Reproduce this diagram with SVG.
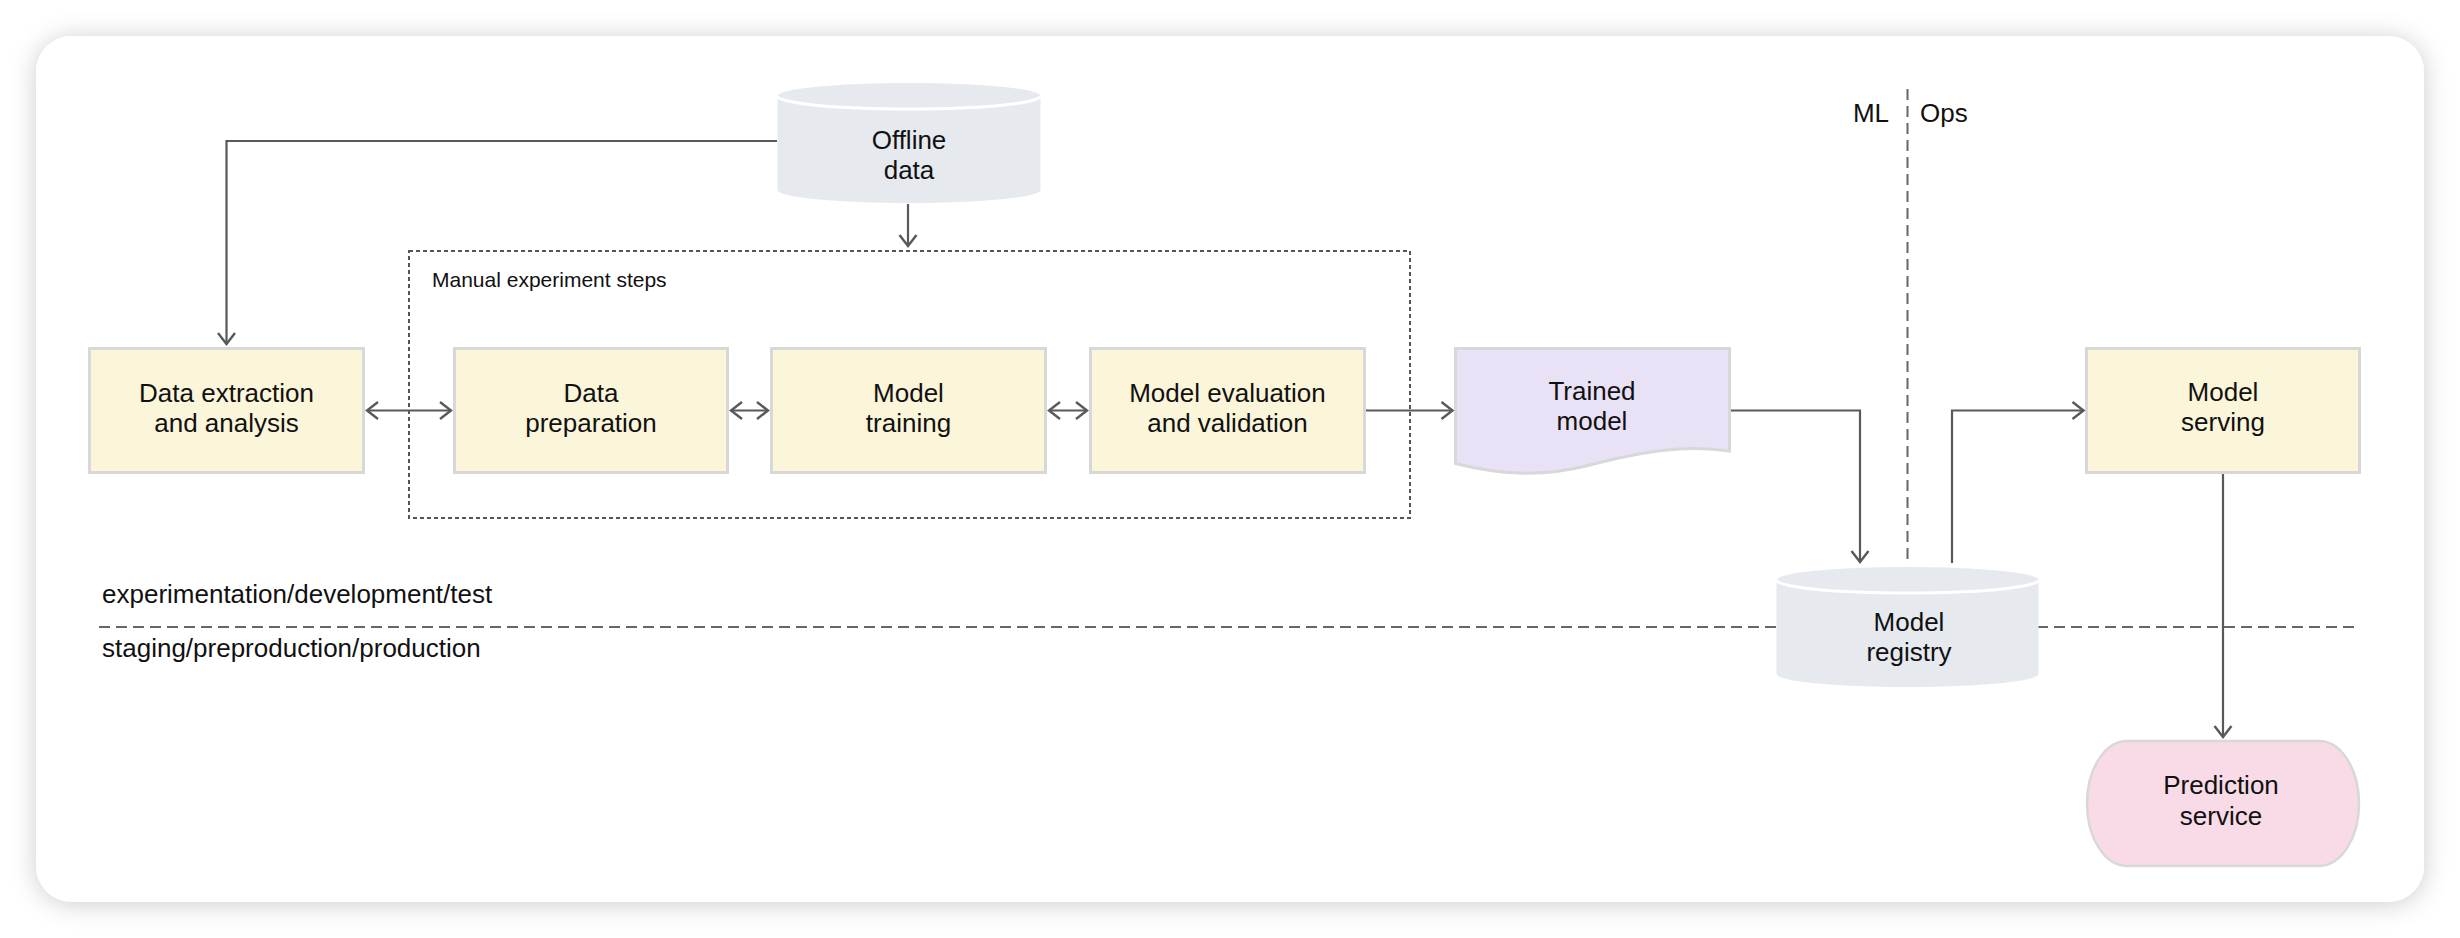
<svg xmlns="http://www.w3.org/2000/svg" width="2460" height="938" viewBox="0 0 2460 938">
  <defs>
    <style>
      .lbl { font-family: "Liberation Sans", Arial, sans-serif; font-size: 26px; fill: #111111; text-anchor: middle; }
      .lbl-l { font-family: "Liberation Sans", Arial, sans-serif; font-size: 26px; fill: #111111; text-anchor: start; }
      .small { font-family: "Liberation Sans", Arial, sans-serif; font-size: 21px; fill: #111111; }
      .box { stroke: #d8d8d8; stroke-width: 3; }
      .proc { fill: #fbf5d9; }
      .doc { fill: #e9e1f6; }
      .pred { fill: #f8dbe6; stroke: #d8d8d8; stroke-width: 2.5; }
      .cyl { fill: #e6e9ee; }
      .cyl-rim { fill: none; stroke: #ffffff; stroke-width: 3; }
      .conn { fill: none; stroke: #595959; stroke-width: 2.2; }
      .sep { fill: none; stroke: #666666; stroke-width: 2; stroke-dasharray: 11 6; }
      .group { fill: none; stroke: #555555; stroke-width: 2; stroke-dasharray: 4 3; }
    </style>
    <marker id="arr" viewBox="-14 -11 16 22" refX="0" refY="0" markerWidth="16" markerHeight="22" markerUnits="userSpaceOnUse" orient="auto-start-reverse">
      <path d="M-11,-8.5 L0,0 L-11,8.5" fill="none" stroke="#595959" stroke-width="2.4" stroke-linejoin="miter"/>
    </marker>
    <filter id="shadow" x="-5%" y="-10%" width="110%" height="120%">
      <feDropShadow dx="0" dy="2" stdDeviation="13" flood-color="#000000" flood-opacity="0.2"/>
    </filter>
  </defs>

  <rect x="0" y="0" width="2460" height="938" fill="#ffffff"/>
  <rect id="card" x="36" y="36" width="2388" height="866" rx="36" ry="36" fill="#ffffff" filter="url(#shadow)"/>

  <g id="separators">
    <line class="sep" x1="99" y1="627" x2="2359" y2="627"/>
    <line class="sep" x1="1907.5" y1="89" x2="1907.5" y2="564"/>
    <text class="lbl-l" x="102" y="603">experimentation/development/test</text>
    <text class="lbl-l" x="102" y="657">staging/preproduction/production</text>
    <text class="lbl" x="1871" y="122">ML</text>
    <text class="lbl-l" x="1920" y="122">Ops</text>
  </g>

  <g id="manual-steps">
    <rect class="group" x="409" y="251" width="1001" height="267"/>
    <text class="small" x="432" y="287">Manual experiment steps</text>
  </g>

  <g id="offline-data">
    <path class="cyl" d="M777.5,96 A131.5,13 0 0 1 1040.5,96 V190 A131.5,13 0 0 1 777.5,190 Z"/>
    <path class="cyl-rim" d="M777.5,96 A131.5,13 0 0 0 1040.5,96"/>
    <text class="lbl" x="909" y="149">Offline</text>
    <text class="lbl" x="909" y="179">data</text>
  </g>

  <g id="data-extraction">
    <rect class="box proc" x="89.5" y="348.5" width="274" height="124"/>
    <text class="lbl" x="226.5" y="402">Data extraction</text>
    <text class="lbl" x="226.5" y="432">and analysis</text>
  </g>

  <g id="data-preparation">
    <rect class="box proc" x="454.5" y="348.5" width="273" height="124"/>
    <text class="lbl" x="591" y="402">Data</text>
    <text class="lbl" x="591" y="432">preparation</text>
  </g>

  <g id="model-training">
    <rect class="box proc" x="771.5" y="348.5" width="274" height="124"/>
    <text class="lbl" x="908.5" y="402">Model</text>
    <text class="lbl" x="908.5" y="432">training</text>
  </g>

  <g id="model-evaluation">
    <rect class="box proc" x="1090.5" y="348.5" width="274" height="124"/>
    <text class="lbl" x="1227.5" y="402">Model evaluation</text>
    <text class="lbl" x="1227.5" y="432">and validation</text>
  </g>

  <g id="trained-model">
    <path class="box doc" d="M1455.5,348.5 H1729.5 V451 C1685,444 1640,452 1590,465 C1540,478 1497,474 1455.5,463.5 Z"/>
    <text class="lbl" x="1592" y="400">Trained</text>
    <text class="lbl" x="1592" y="430">model</text>
  </g>

  <g id="model-registry">
    <path class="cyl" d="M1776.5,580 A131,13 0 0 1 2038.5,580 V674 A131,13 0 0 1 1776.5,674 Z"/>
    <path class="cyl-rim" d="M1776.5,580 A131,13 0 0 0 2038.5,580"/>
    <text class="lbl" x="1909" y="631">Model</text>
    <text class="lbl" x="1909" y="661">registry</text>
  </g>

  <g id="model-serving">
    <rect class="box proc" x="2086.5" y="348.5" width="273" height="124"/>
    <text class="lbl" x="2223" y="401">Model</text>
    <text class="lbl" x="2223" y="431">serving</text>
  </g>

  <g id="prediction-service">
    <rect class="pred" x="2087" y="741" width="272" height="125" rx="40" ry="62.5"/>
    <text class="lbl" x="2221" y="794">Prediction</text>
    <text class="lbl" x="2221" y="825">service</text>
  </g>

  <g id="connectors">
    <path class="conn" d="M777,141 H226.5 V344" marker-end="url(#arr)"/>
    <path class="conn" d="M908,204 V246" marker-end="url(#arr)"/>
    <path class="conn" d="M367,410.5 H451" marker-start="url(#arr)" marker-end="url(#arr)"/>
    <path class="conn" d="M731,410.5 H768" marker-start="url(#arr)" marker-end="url(#arr)"/>
    <path class="conn" d="M1049,410.5 H1087" marker-start="url(#arr)" marker-end="url(#arr)"/>
    <path class="conn" d="M1366,410.5 H1452.5" marker-end="url(#arr)"/>
    <path class="conn" d="M1731,410.5 H1860 V562" marker-end="url(#arr)"/>
    <path class="conn" d="M1952,563 V410.5 H2083.5" marker-end="url(#arr)"/>
    <path class="conn" d="M2223,474 V737" marker-end="url(#arr)"/>
  </g>
</svg>
